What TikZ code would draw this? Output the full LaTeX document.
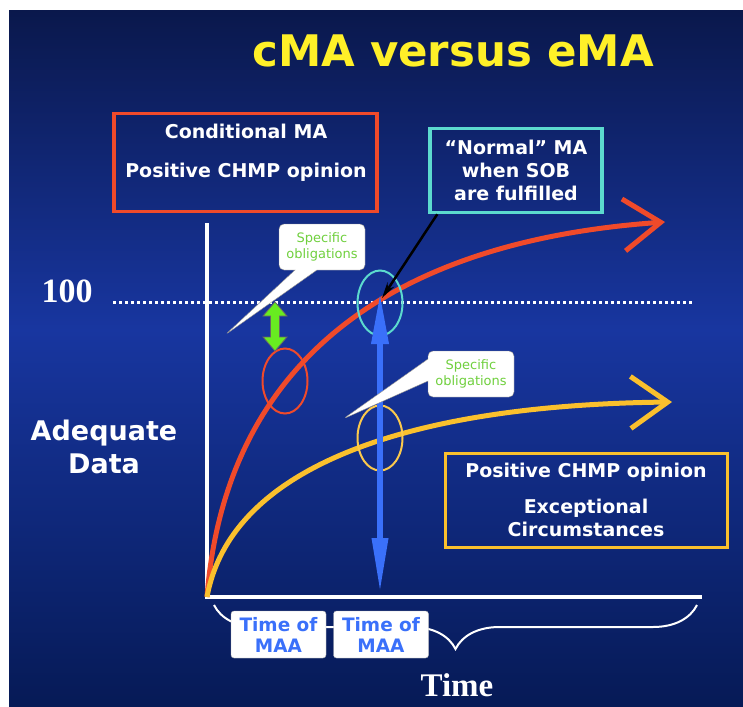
\documentclass[tikz,border=0pt]{standalone}
\usepackage{fontspec}
\setmainfont{DejaVu Sans}
\newfontfamily\timesfont{Liberation Serif}
\usetikzlibrary{arrows.meta,decorations.pathreplacing,shapes.geometric,shapes.callouts}
\definecolor{navytop}{RGB}{10,24,76}
\definecolor{navybot}{RGB}{6,26,86}
\definecolor{slideblue}{RGB}{24,54,160}
\definecolor{curvered}{RGB}{240,74,42}
\definecolor{curveyellow}{RGB}{250,192,45}
\definecolor{titleyellow}{RGB}{255,240,40}
\definecolor{sobcyan}{RGB}{92,218,206}
\definecolor{obgreen}{RGB}{112,208,62}
\definecolor{arrowgreen}{RGB}{104,236,32}
\definecolor{maablue}{RGB}{58,112,250}
\begin{document}
\begin{tikzpicture}[x=1pt,y=-1pt,
    lbl/.style={text=white,font=\bfseries\fontsize{19}{23}\selectfont,anchor=base,align=center},
    lbox/.style={draw=#1,line width=3.5pt,inner sep=0pt},
    ring/.style={ellipse,draw=#1,line width=2pt,inner sep=0pt,minimum width=45pt,minimum height=65pt},
    sob/.style={rectangle callout,fill=white,draw=black!45,rounded corners=5pt,text=obgreen,font=\fontsize{13}{16}\selectfont,align=center,minimum width=86pt,minimum height=46pt,inner sep=1pt,callout pointer width=22pt},
    maa/.style={fill=white,draw=black!30,rounded corners=3pt,text=maablue,font=\bfseries\fontsize{18.5}{21}\selectfont,align=center,minimum width=95pt,minimum height=47pt,inner sep=0pt},
    datacurve/.style={line width=5pt,-{Straight Barb[length=37pt,width=52pt]}}]
  \useasboundingbox (0,0) rectangle (743,706);
  \fill[white] (0,0) rectangle (743,706);
  \fill[navytop] (9,11) rectangle (743,706);
  \shade[shading angle=0,top color=navytop,bottom color=slideblue] (9,11) rectangle (743,330);
  \shade[shading angle=0,top color=slideblue,bottom color=navybot] (9,329) rectangle (743,706);
  \node[text=titleyellow,font=\bfseries\fontsize{43.5}{50}\selectfont,anchor=base] (title) at (453,67) {cMA versus eMA};
  \node[lbox=curvered,minimum width=263pt,minimum height=98pt] (cond) at (245.5,162.5) {};
  \node[lbl] (condma) at (246,138) {Conditional MA};
  \node[lbl] (condop) at (246,177) {Positive CHMP opinion};
  \node[lbox=sobcyan,minimum width=172pt,minimum height=84pt] (normal) at (516,170.5) {};
  \node[lbl] (normaltxt) at (516,200) {``Normal'' MA\\when SOB\\are fulfilled};
  \node[lbox=curveyellow,minimum width=282pt,minimum height=94pt] (exc) at (586.5,500.5) {};
  \node[lbl] (excop) at (586,477) {Positive CHMP opinion};
  \node[lbl] (exctxt) at (586,536) {Exceptional\\Circumstances};
  \node[text=white,font=\timesfont\bfseries\fontsize{34}{40}\selectfont,anchor=base] (hundred) at (67,302) {100};
  \node[lbl,font=\bfseries\fontsize{27}{33}\selectfont] (adequate) at (104,473) {Adequate\\Data};
  \draw[white,line width=3pt,dash pattern=on 3pt off 3pt] (113,302) -- (692,302);
  \coordinate (ytop) at (207,223);
  \coordinate (origin) at (207,597);
  \coordinate (xend) at (702,597);
  \draw[white,line width=4.5pt] (ytop) -- (origin) -- (xend);
  \draw[white,line width=2pt,decorate,decoration={brace,mirror,amplitude=44pt}] (214,605) -- (697,605);
  \draw[datacurve,curvered] (origin) .. controls (222,405) and (340,245) .. (665,222);
  \draw[datacurve,curveyellow] (origin) .. controls (230,470) and (400,405) .. (672,402);
  \node[ring=curvered] (condring) at (285,381) {};
  \node[ring=sobcyan] (sobring) at (380,303) {};
  \node[ring=curveyellow!85!white] (excring) at (380,438) {};
  \coordinate (sobtip) at (382,298);
  \draw[black,line width=2.5pt,-{Stealth[length=16pt,width=8pt]}] ([xshift=9pt]normal.south west) -- (sobtip);
  \coordinate (maatop) at (380,292);
  \coordinate (maabot) at (380,594);
  \draw[maablue,line width=6.5pt,{Triangle[length=52pt,width=16pt]}-{Triangle[length=56pt,width=15pt]}] (maatop) -- (maabot);
  \filldraw[fill=arrowgreen,draw=black!60,line width=0.8pt] (275,302) -- (287,316) -- (279.5,316) -- (279.5,337) -- (287,337) -- (275,351) -- (263,337) -- (270.5,337) -- (270.5,316) -- (263,316) -- cycle;
  \node[sob,callout absolute pointer={(225,335)}] (sob1) at (322,247) {Specific\\obligations};
  \node[sob,callout absolute pointer={(343,419)}] (sob2) at (471,374) {Specific\\obligations};
  \node[maa] (maa1) at (278.5,634.5) {Time of\\MAA};
  \node[maa] (maa2) at (381,634.5) {Time of\\MAA};
  \node[text=white,font=\timesfont\bfseries\fontsize{33}{38}\selectfont,anchor=base] (time) at (457,696) {Time};
\end{tikzpicture}
\end{document}
